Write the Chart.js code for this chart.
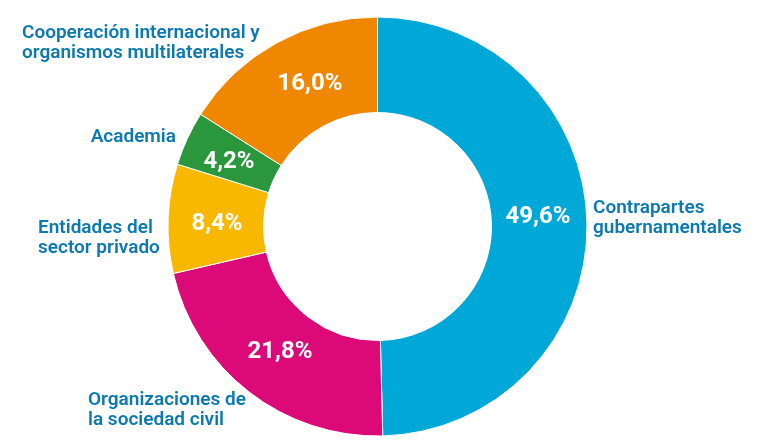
<!DOCTYPE html>
<html>
<head>
<meta charset="utf-8">
<script src="https://cdn.jsdelivr.net/npm/chart.js@4.4.1/dist/chart.umd.min.js"></script>
<style>
  html, body { margin: 0; padding: 0; background: #ffffff; }
  #wrap { width: 768px; height: 441px; }
</style>
</head>
<body>
<div id="wrap"><canvas id="c" width="768" height="441"></canvas></div>
<script>
// ---- Data ----
const categories = [
  "Contrapartes gubernamentales",
  "Organizaciones de la sociedad civil",
  "Entidades del sector privado",
  "Academia",
  "Cooperación internacional y organismos multilaterales"
];
const shares = [49.6, 21.8, 8.4, 4.2, 16.0];
const valueLabels = ["49,6%", "21,8%", "8,4%", "4,2%", "16,0%"];
const labelLines = [
  ["Contrapartes", "gubernamentales"],
  ["Organizaciones de", "la sociedad civil"],
  ["Entidades del", "sector privado"],
  ["Academia"],
  ["Cooperación internacional y", "organismos multilaterales"]
];
const colors = ["#00A8D8", "#DC0A78", "#F9B800", "#2A973D", "#EF8700"];

// ---- Layout (text placement, not data) ----
const nameLayout = [
  { x: 593, y: 213, align: "left" },
  { x: 88, y: 405, align: "left" },
  { x: 38, y: 233, align: "left" },
  { x: 176, y: 142, align: "right" },
  { x: 22, y: 38, align: "left" }
];
const valueLayout = [
  { x: 538, y: 217 },
  { x: 280, y: 352 },
  { x: 217, y: 224 },
  { x: 229, y: 162 },
  { x: 310, y: 84 }
];
const NAME_FONT = "600 19px Roboto";
const NAME_LINE = 20;
const VALUE_FONT = "700 24px Roboto";
const NAME_COLOR = "#0C7AB0";

const textPlugin = {
  id: "textPlugin",
  afterDraw(chart) {
    const ctx = chart.ctx;
    ctx.save();
    ctx.font = VALUE_FONT;
    ctx.fillStyle = "#ffffff";
    ctx.textAlign = "center";
    ctx.textBaseline = "middle";
    valueLabels.forEach((t, i) => {
      ctx.fillText(t, valueLayout[i].x, valueLayout[i].y);
    });
    ctx.font = NAME_FONT;
    ctx.fillStyle = NAME_COLOR;
    ctx.textBaseline = "alphabetic";
    labelLines.forEach((lines, i) => {
      const L = nameLayout[i];
      ctx.textAlign = L.align;
      lines.forEach((ln, j) => ctx.fillText(ln, L.x, L.y + j * NAME_LINE));
    });
    ctx.restore();
  }
};

new Chart(document.getElementById("c"), {
  type: "doughnut",
  data: {
    labels: categories,
    datasets: [{
      data: shares,
      backgroundColor: colors,
      borderColor: "#ffffff",
      borderWidth: 1,
      hoverOffset: 0
    }]
  },
  options: {
    responsive: false,
    animation: false,
    cutout: 114,
    layout: { padding: { top: 16.5, bottom: 4.5, left: 167.5, right: 180.5 } },
    plugins: {
      legend: { display: false },
      tooltip: { enabled: false }
    }
  },
  plugins: [textPlugin]
});
</script>
</body>
</html>
